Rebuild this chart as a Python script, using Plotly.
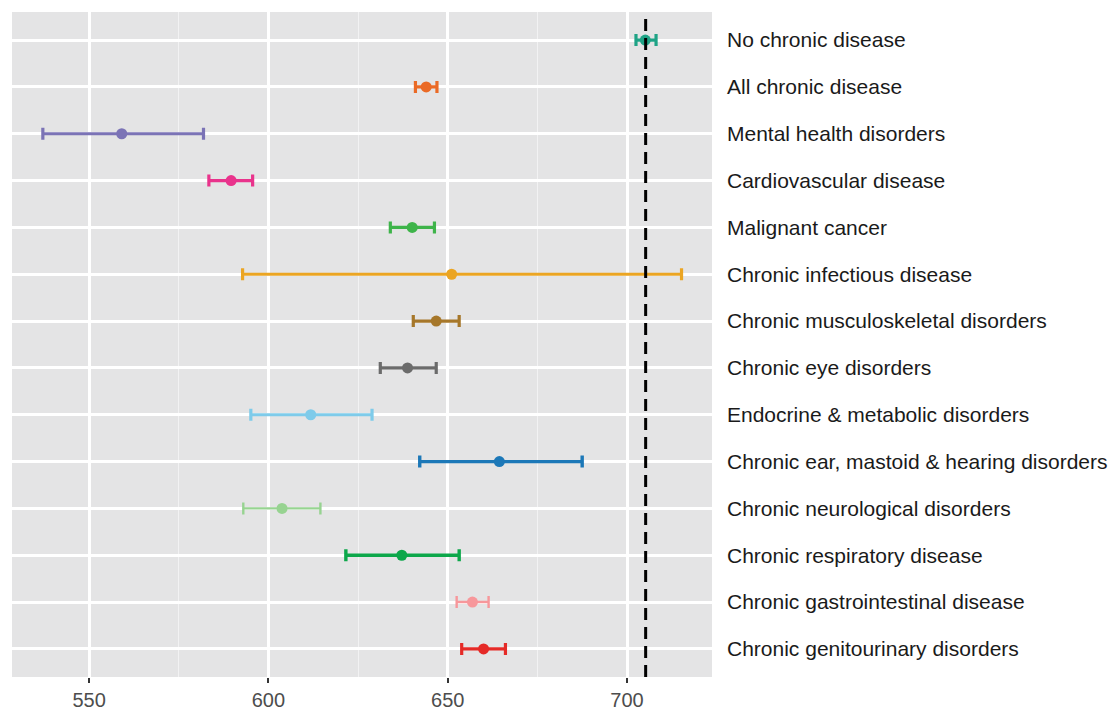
import plotly.graph_objects as go

categories = [
    "No chronic disease",
    "All chronic disease",
    "Mental health disorders",
    "Cardiovascular disease",
    "Malignant cancer",
    "Chronic infectious disease",
    "Chronic musculoskeletal disorders",
    "Chronic eye disorders",
    "Endocrine & metabolic disorders",
    "Chronic ear, mastoid & hearing disorders",
    "Chronic neurological disorders",
    "Chronic respiratory disease",
    "Chronic gastrointestinal disease",
    "Chronic genitourinary disorders",
]
means = [705.1, 644.0, 559.1, 589.6, 640.1, 651.1, 646.8, 638.8, 611.8, 664.4, 603.8, 637.2, 656.9, 660.0]
lows  = [702.5, 641.0, 537.1, 583.4, 634.0, 592.8, 640.4, 631.2, 595.1, 642.2, 593.0, 621.6, 652.5, 653.9]
highs = [708.1, 647.0, 581.9, 595.6, 646.3, 715.2, 653.2, 646.8, 628.9, 687.5, 614.5, 653.2, 661.4, 666.1]
colors = ["#1fa386", "#ea6a26", "#7b73b6", "#e9338c", "#3eb44a", "#eba523",
          "#a6772a", "#6b6b6b", "#7ecbea", "#1c78b8", "#97d391", "#0ca74a",
          "#f7979b", "#e52a27"]
widths = [3.2, 3.2, 3.2, 3.2, 3.2, 3.2, 3.2, 3.2, 3.2, 3.4, 2.4, 3.4, 2.4, 3.2]
reference = 705.2
x_ticks = [550, 600, 650, 700]

fig = go.Figure()
for c, m, lo, hi, col, w in zip(categories, means, lows, highs, colors, widths):
    fig.add_trace(go.Scatter(
        x=[m], y=[c], mode="markers",
        marker=dict(color=col, size=11),
        error_x=dict(type="data", symmetric=False, array=[hi - m], arrayminus=[m - lo],
                     color=col, thickness=w, width=6),
        showlegend=False, hoverinfo="x+y",
    ))

fig.add_shape(type="line", x0=reference, x1=reference, xref="x", y0=0, y1=1, yref="y domain",
              line=dict(color="black", width=3, dash="12px,7px"))

fig.update_layout(
    width=1110, height=711,
    margin=dict(l=12, r=398, t=12, b=34),
    paper_bgcolor="white", plot_bgcolor="#e4e4e5",
    font=dict(family="Liberation Sans, Arial, sans-serif"),
    xaxis=dict(range=[528.5, 723.7], tickvals=x_ticks, showgrid=True, gridcolor="white", gridwidth=2.5,
               minor=dict(dtick=50, tick0=525, showgrid=True, gridcolor="#f2f2f3", gridwidth=1.2, ticks=""),
               ticks="outside", ticklen=5, tickwidth=2, tickcolor="#333333",
               tickfont=dict(size=20, color="#4d4d4d"),
               zeroline=False, showline=False, automargin=False),
    yaxis=dict(categoryorder="array", categoryarray=categories, range=[13.6, -0.6],
               side="right", showgrid=True, gridcolor="white", gridwidth=3,
               tickfont=dict(size=21, color="#1a1a1a"), ticks="", ticklabelstandoff=14,
               zeroline=False, showline=False, automargin=False),
)

fig.write_html("out.html", config={"displayModeBar": False},
               post_script="document.body.style.margin='0';document.body.style.overflow='hidden';")
